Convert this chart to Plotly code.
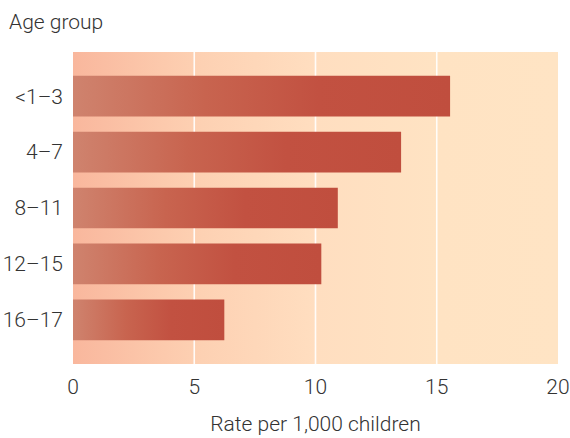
import plotly.graph_objects as go

# Rate per 1,000 children, by age group
age_groups = ["<1–3", "4–7", "8–11", "12–15", "16–17"]
rates = [15.55, 13.53, 10.92, 10.24, 6.24]
x_ticks = [0, 5, 10, 15, 20]

X_MAX = 20
Y_PAD = 0.79          # space above first / below last bar, in category units
BAR_HALF = 0.3635     # half bar thickness, in category units

FONT = dict(family="Roboto, 'Liberation Sans', Arial, sans-serif", size=21, color="#333333", weight=300)

y_lo, y_hi = -Y_PAD, len(age_groups) - 1 + Y_PAD

fig = go.Figure()

# Shaded plotting area: warm salmon fading to light peach
fig.add_trace(go.Scatter(
    x=[0, X_MAX, X_MAX, 0, 0],
    y=[y_lo, y_lo, y_hi, y_hi, y_lo],
    mode="lines", line=dict(width=0), fill="toself",
    fillgradient=dict(type="horizontal", start=0, stop=X_MAX,
                      colorscale=[[0, "#F9B79D"], [0.25, "#FDD0B2"],
                                  [0.5, "#FFDEC0"], [0.75, "#FFE3C3"], [1, "#FFE4C4"]]),
    hoverinfo="skip", showlegend=False,
))

# White vertical gridlines
for t in x_ticks[1:-1]:
    fig.add_trace(go.Scatter(
        x=[t, t], y=[y_lo, y_hi], mode="lines",
        line=dict(color="rgba(255,255,255,0.9)", width=1.6),
        hoverinfo="skip", showlegend=False,
    ))

# Horizontal bars with a light-to-dark red gradient along their length
for i, (grp, val) in enumerate(zip(age_groups, rates)):
    fig.add_trace(go.Scatter(
        x=[0, val, val, 0, 0],
        y=[i - BAR_HALF, i - BAR_HALF, i + BAR_HALF, i + BAR_HALF, i - BAR_HALF],
        mode="lines", line=dict(width=0), fill="toself",
        fillgradient=dict(type="horizontal",
                          colorscale=[[0, "#CF836E"], [0.35, "#C8644F"],
                                      [0.65, "#C25141"], [1, "#C04E3E"]]),
        name=grp, hovertemplate=f"{grp}: {val}<extra></extra>", showlegend=False,
    ))

fig.update_layout(
    width=570, height=438,
    margin=dict(l=73, r=12, t=52, b=74),
    paper_bgcolor="white", plot_bgcolor="rgba(0,0,0,0)",
    font=FONT,
    showlegend=False,
    annotations=[
        dict(text="Age group", xref="paper", yref="paper", x=0, y=1,
             xanchor="left", yanchor="bottom", xshift=-66, yshift=16,
             showarrow=False, font=FONT),
    ],
)

fig.update_xaxes(
    range=[0, X_MAX], tickvals=x_ticks, ticktext=[str(t) for t in x_ticks],
    showgrid=False, zeroline=False, showline=False, ticks="",
    ticklabelstandoff=8, tickfont=FONT, automargin=False,
    title=dict(text="Rate per 1,000 children", font=FONT, standoff=18),
    fixedrange=True,
)
fig.update_yaxes(
    range=[y_hi, y_lo], tickvals=list(range(len(age_groups))), ticktext=age_groups,
    showgrid=False, zeroline=False, showline=False, ticks="",
    ticklabelstandoff=9, tickfont=FONT, automargin=False, fixedrange=True,
)

fig.write_html("out.html")
